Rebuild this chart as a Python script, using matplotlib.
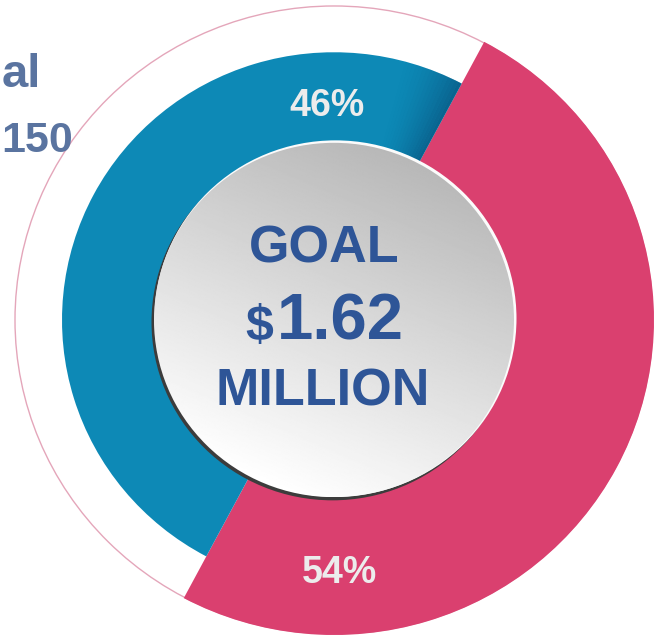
import numpy as np
import matplotlib
matplotlib.use("Agg")
import matplotlib.pyplot as plt
from matplotlib.patches import Circle, Wedge

# data
segment_names = ["Raised", "Remaining"]
segment_labels = ["54%", "46%"]
segment_sizes = [50, 50]          # as drawn: the split is a straight diameter
segment_colors = ["#da406f", "#0d89b6"]
goal_lines = ["GOAL", "$", "1.62", "MILLION"]
side_text = ["al", "150"]         # cut-off text at the left edge

W, H = 662, 639
SY = 315 / 320                    # picture is a little squashed vertically


def py(p):
    # pixel row -> data y
    return (H - p) / SY


fig = plt.figure(figsize=(W / 100, H / 100), dpi=100)
ax = fig.add_axes([0, 0, 1, 1])

CX, CY = 334, py(320)
R_OUT = 320
R_BLUE = 272
R_IN = 180
START = 62

# thin outer ring
ax.add_patch(Circle((CX, CY), R_OUT - 1, facecolor="white", edgecolor="#e4a6ba",
                    lw=1.0, zorder=0))

# pink segment (full width)
ax.pie(segment_sizes, radius=R_OUT, center=(CX, CY), startangle=START,
       counterclock=False, colors=[segment_colors[0], "none"],
       wedgeprops=dict(width=R_OUT - R_IN, linewidth=0), frame=True)
# blue segment (narrower ring)
ax.pie(segment_sizes, radius=R_BLUE, center=(CX, CY), startangle=START,
       counterclock=False, colors=["none", segment_colors[1]],
       wedgeprops=dict(width=R_BLUE - R_IN, linewidth=0), frame=True)

# dark shading on the blue where it meets the pink at the top
n = 16
for i in range(n):
    a = START + i * 0.8
    ax.add_patch(Wedge((CX, CY), R_BLUE, a, a + 0.8, width=R_BLUE - R_IN,
                       facecolor="#07406a", alpha=0.5 * (1 - i / n) ** 1.6,
                       lw=0, zorder=3))

# center disc: shadow + highlight rims
ax.add_patch(Circle((CX - 1.5, CY - 2.2), R_IN + 1, facecolor="#3c3c3c", lw=0, zorder=4))
ax.add_patch(Circle((CX + 1.5, CY + 1.5), R_IN + 1, facecolor="#fbfbfb", lw=0, zorder=4))
disc = Circle((CX, CY), R_IN, facecolor="none", lw=0, zorder=5)
ax.add_patch(disc)
gx = np.linspace(-1, 1, 300)
gxx, gyy = np.meshgrid(gx, gx)
s = -0.4 * gxx - 0.92 * gyy
grey = 0.86 + 0.14 * s
img = ax.imshow(grey, cmap="gray", vmin=0, vmax=1, origin="lower",
                extent=[CX - R_IN, CX + R_IN, CY - R_IN, CY + R_IN],
                zorder=5, interpolation="bilinear", aspect="auto")
img.set_clip_path(disc)

# center text
navy = "#2e5597"
ax.text(324, py(263), goal_lines[0], ha="center", va="baseline", fontsize=37.5,
        fontweight="bold", family="Liberation Sans", color=navy, zorder=6)
ax.text(273, py(340), goal_lines[1], ha="right", va="baseline", fontsize=36,
        fontweight="bold", family="Liberation Sans", color=navy, zorder=6)
ax.text(277, py(340), goal_lines[2], ha="left", va="baseline", fontsize=47,
        fontweight="bold", family="Liberation Sans", color=navy, zorder=6)
ax.text(323, py(405), goal_lines[3], ha="center", va="baseline", fontsize=37.5,
        fontweight="bold", family="Liberation Sans", color=navy, zorder=6)

# percentage labels
ax.text(339, py(583), segment_labels[0], ha="center", va="baseline", fontsize=27,
        fontweight="bold", family="Liberation Sans", color="#ececec", zorder=6)
ax.text(327, py(116), segment_labels[1], ha="center", va="baseline", fontsize=27,
        fontweight="bold", family="Liberation Sans", color="#ececec", zorder=6)

# clipped text on the left
ax.text(41, py(87), side_text[0], ha="right", va="baseline", fontsize=34,
        fontweight="bold", family="Liberation Sans", color="#5a74a0")
ax.text(73, py(152), side_text[1], ha="right", va="baseline", fontsize=31,
        fontweight="bold", family="Liberation Sans", color="#5a74a0")

ax.set_xlim(0, W)
ax.set_ylim(0, H / SY)
ax.set_aspect("auto")
ax.axis("off")

fig.savefig("out.png", dpi=100, facecolor="white")
